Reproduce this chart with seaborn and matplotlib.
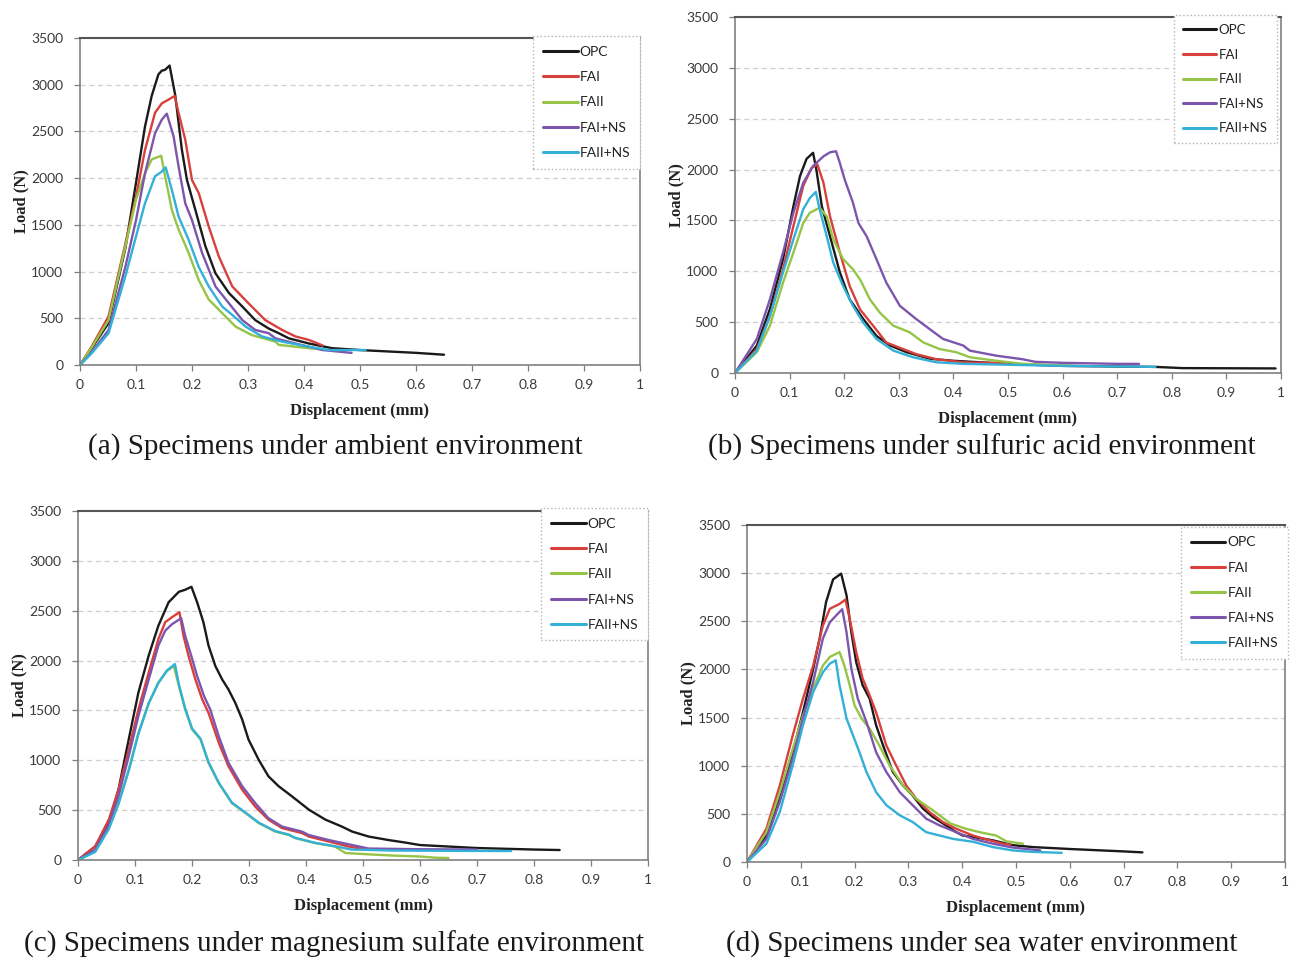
import matplotlib
matplotlib.use("Agg")
import matplotlib.pyplot as plt
import seaborn as sns
import pandas as pd

# ---------------- data (Displacement mm, Load N) ----------------
MIXES = ["OPC", "FAI", "FAII", "FAI+NS", "FAII+NS"]
COLORS = ["#1a1a1a", "#d7403c", "#95c447", "#7d55ad", "#33b0d8"]

# (a) ambient
a_opc_x = [0, 0.02, 0.051, 0.081, 0.1, 0.116, 0.128, 0.14, 0.146, 0.152, 0.16, 0.17, 0.182, 0.191, 0.206, 0.224, 0.242, 0.266, 0.29, 0.313, 0.337, 0.355, 0.373, 0.409, 0.45, 0.5, 0.55, 0.6, 0.65]
a_opc_y = [0, 170, 450, 1250, 1950, 2550, 2880, 3110, 3150, 3160, 3205, 2890, 2300, 1980, 1660, 1270, 980, 770, 625, 480, 390, 340, 285, 230, 180, 160, 145, 130, 110]
a_fai_x = [0, 0.02, 0.051, 0.081, 0.1, 0.116, 0.134, 0.146, 0.158, 0.169, 0.176, 0.188, 0.2, 0.212, 0.23, 0.248, 0.272, 0.301, 0.331, 0.361, 0.385, 0.409, 0.433]
a_fai_y = [0, 190, 520, 1300, 1800, 2300, 2700, 2800, 2840, 2880, 2700, 2410, 1980, 1840, 1480, 1160, 840, 660, 480, 375, 305, 268, 210]
a_faii_x = [0, 0.02, 0.051, 0.081, 0.1, 0.116, 0.128, 0.145, 0.152, 0.164, 0.176, 0.194, 0.212, 0.23, 0.254, 0.278, 0.307, 0.349, 0.355, 0.409, 0.43]
a_faii_y = [0, 180, 480, 1270, 1770, 2050, 2200, 2240, 2020, 1660, 1450, 1200, 910, 700, 555, 410, 320, 250, 215, 180, 170]
a_fains_x = [0, 0.02, 0.051, 0.081, 0.1, 0.116, 0.134, 0.146, 0.155, 0.167, 0.176, 0.188, 0.2, 0.218, 0.242, 0.266, 0.29, 0.313, 0.337, 0.349, 0.385, 0.433, 0.485]
a_fains_y = [0, 130, 375, 1050, 1550, 2050, 2480, 2625, 2690, 2450, 2125, 1730, 1550, 1200, 840, 660, 480, 375, 340, 285, 230, 160, 130]
a_faiins_x = [0, 0.02, 0.051, 0.081, 0.1, 0.116, 0.134, 0.146, 0.153, 0.164, 0.176, 0.194, 0.212, 0.23, 0.254, 0.272, 0.296, 0.325, 0.361, 0.409, 0.445, 0.51]
a_faiins_y = [0, 120, 340, 950, 1375, 1730, 2020, 2070, 2115, 1875, 1590, 1340, 1050, 840, 625, 535, 410, 305, 250, 195, 160, 160]

# (b) sulfuric acid
b_opc_x = [0, 0.04, 0.064, 0.088, 0.107, 0.119, 0.131, 0.143, 0.149, 0.159, 0.174, 0.192, 0.21, 0.235, 0.259, 0.284, 0.314, 0.357, 0.4, 0.5, 0.6, 0.77, 0.82, 0.99]
b_opc_y = [0, 270, 630, 1120, 1640, 1935, 2105, 2165, 2000, 1640, 1345, 990, 725, 530, 365, 270, 205, 140, 120, 90, 70, 60, 48, 45]
b_fai_x = [0, 0.04, 0.064, 0.088, 0.107, 0.125, 0.14, 0.151, 0.162, 0.174, 0.192, 0.21, 0.229, 0.253, 0.277, 0.308, 0.332, 0.369, 0.418, 0.5]
b_fai_y = [0, 235, 560, 1020, 1445, 1840, 2015, 2050, 1870, 1540, 1185, 855, 625, 465, 300, 235, 185, 135, 105, 95]
b_faii_x = [0, 0.04, 0.064, 0.088, 0.107, 0.125, 0.137, 0.155, 0.168, 0.18, 0.198, 0.216, 0.229, 0.247, 0.265, 0.29, 0.32, 0.345, 0.375, 0.405, 0.43, 0.479, 0.527, 0.62]
b_faii_y = [0, 205, 465, 890, 1185, 1475, 1575, 1625, 1540, 1315, 1120, 1020, 920, 725, 595, 465, 400, 300, 235, 205, 155, 120, 90, 70]
b_fains_x = [0, 0.04, 0.064, 0.088, 0.107, 0.125, 0.143, 0.162, 0.174, 0.185, 0.192, 0.201, 0.216, 0.226, 0.241, 0.259, 0.277, 0.302, 0.332, 0.357, 0.381, 0.418, 0.43, 0.479, 0.527, 0.55, 0.6, 0.7, 0.74]
b_fains_y = [0, 335, 725, 1185, 1575, 1870, 2035, 2130, 2170, 2180, 2065, 1900, 1675, 1475, 1345, 1120, 890, 660, 530, 430, 335, 270, 220, 170, 135, 110, 100, 90, 90]
b_faiins_x = [0, 0.04, 0.064, 0.088, 0.107, 0.125, 0.137, 0.148, 0.155, 0.168, 0.18, 0.198, 0.216, 0.235, 0.259, 0.29, 0.326, 0.369, 0.418, 0.6, 0.77]
b_faiins_y = [0, 220, 560, 990, 1315, 1610, 1720, 1780, 1610, 1345, 1085, 855, 660, 495, 335, 220, 155, 105, 90, 70, 60]

# (c) magnesium sulfate
c_opc_x = [0, 0.03, 0.054, 0.071, 0.089, 0.106, 0.124, 0.141, 0.159, 0.177, 0.188, 0.199, 0.209, 0.22, 0.229, 0.241, 0.253, 0.264, 0.276, 0.288, 0.299, 0.317, 0.334, 0.352, 0.375, 0.405, 0.434, 0.463, 0.481, 0.51, 0.545, 0.574, 0.6, 0.7, 0.8, 0.845]
c_opc_y = [0, 135, 370, 705, 1210, 1680, 2050, 2350, 2585, 2690, 2710, 2740, 2585, 2385, 2150, 1945, 1810, 1710, 1575, 1410, 1210, 1005, 840, 740, 640, 505, 405, 335, 285, 235, 200, 175, 150, 120, 105, 100]
c_fai_x = [0, 0.03, 0.054, 0.071, 0.089, 0.106, 0.124, 0.141, 0.153, 0.165, 0.178, 0.185, 0.194, 0.206, 0.218, 0.229, 0.247, 0.264, 0.288, 0.311, 0.334, 0.358, 0.393, 0.405, 0.44, 0.475, 0.5]
c_fai_y = [0, 135, 405, 705, 1105, 1510, 1880, 2215, 2385, 2435, 2485, 2250, 2045, 1810, 1610, 1475, 1175, 940, 705, 535, 405, 320, 270, 235, 185, 135, 110]
c_faii_x = [0, 0.03, 0.054, 0.071, 0.089, 0.106, 0.124, 0.141, 0.156, 0.168, 0.177, 0.188, 0.2, 0.215, 0.229, 0.247, 0.27, 0.294, 0.317, 0.346, 0.37, 0.381, 0.416, 0.451, 0.469, 0.5, 0.55, 0.6, 0.63, 0.65]
c_faii_y = [0, 85, 320, 570, 905, 1275, 1575, 1780, 1895, 1945, 1745, 1510, 1310, 1210, 975, 770, 570, 470, 370, 285, 250, 220, 170, 135, 70, 60, 45, 35, 22, 20]
c_fains_x = [0, 0.03, 0.054, 0.071, 0.089, 0.106, 0.124, 0.141, 0.153, 0.165, 0.181, 0.188, 0.197, 0.209, 0.221, 0.232, 0.247, 0.264, 0.288, 0.311, 0.334, 0.358, 0.393, 0.405, 0.44, 0.481, 0.51, 0.6, 0.7]
c_fains_y = [0, 100, 350, 640, 1040, 1445, 1810, 2150, 2300, 2365, 2425, 2250, 2080, 1845, 1645, 1510, 1240, 975, 740, 570, 420, 335, 285, 250, 200, 150, 115, 108, 105]
c_faiins_x = [0, 0.03, 0.054, 0.071, 0.089, 0.106, 0.124, 0.141, 0.156, 0.17, 0.177, 0.188, 0.2, 0.215, 0.229, 0.247, 0.27, 0.294, 0.317, 0.346, 0.37, 0.381, 0.416, 0.451, 0.48, 0.55, 0.65, 0.76]
c_faiins_y = [0, 80, 310, 560, 895, 1265, 1570, 1775, 1900, 1965, 1760, 1520, 1320, 1215, 980, 775, 575, 475, 375, 290, 255, 222, 172, 138, 105, 95, 92, 90]

# (d) sea water
d_opc_x = [0, 0.036, 0.061, 0.085, 0.104, 0.123, 0.135, 0.147, 0.16, 0.175, 0.185, 0.194, 0.203, 0.215, 0.228, 0.24, 0.253, 0.271, 0.29, 0.308, 0.327, 0.346, 0.37, 0.389, 0.401, 0.42, 0.457, 0.494, 0.531, 0.6, 0.7, 0.735]
d_opc_y = [0, 275, 690, 1140, 1555, 2005, 2320, 2700, 2935, 2995, 2770, 2385, 2075, 1835, 1695, 1420, 1210, 935, 795, 690, 555, 465, 380, 310, 275, 260, 225, 175, 155, 135, 110, 100]
d_fai_x = [0, 0.036, 0.061, 0.085, 0.104, 0.123, 0.141, 0.154, 0.172, 0.183, 0.191, 0.203, 0.215, 0.228, 0.24, 0.259, 0.277, 0.296, 0.315, 0.339, 0.364, 0.389, 0.42, 0.451, 0.476, 0.49]
d_fai_y = [0, 345, 795, 1315, 1695, 2040, 2455, 2630, 2680, 2725, 2525, 2180, 1905, 1730, 1555, 1210, 1005, 795, 655, 520, 415, 345, 275, 225, 190, 180]
d_faii_x = [0, 0.036, 0.061, 0.085, 0.104, 0.123, 0.141, 0.154, 0.172, 0.181, 0.191, 0.2, 0.213, 0.228, 0.246, 0.265, 0.29, 0.315, 0.346, 0.378, 0.407, 0.432, 0.463, 0.482, 0.513]
d_faii_y = [0, 310, 725, 1175, 1520, 1800, 2040, 2130, 2180, 2040, 1835, 1625, 1490, 1385, 1210, 1005, 795, 655, 535, 400, 345, 310, 275, 215, 190]
d_fains_x = [0, 0.036, 0.061, 0.085, 0.104, 0.123, 0.141, 0.154, 0.169, 0.177, 0.185, 0.194, 0.206, 0.222, 0.24, 0.259, 0.284, 0.308, 0.333, 0.358, 0.389, 0.42, 0.457, 0.494, 0.545]
d_fains_y = [0, 240, 625, 1075, 1490, 1870, 2320, 2490, 2580, 2625, 2385, 2005, 1695, 1455, 1140, 935, 725, 590, 450, 380, 310, 240, 190, 150, 120]
d_faiins_x = [0, 0.036, 0.061, 0.085, 0.104, 0.123, 0.141, 0.154, 0.165, 0.172, 0.185, 0.197, 0.209, 0.222, 0.24, 0.259, 0.284, 0.308, 0.333, 0.358, 0.383, 0.42, 0.457, 0.494, 0.531, 0.585]
d_faiins_y = [0, 190, 520, 1005, 1420, 1765, 1970, 2060, 2095, 1835, 1490, 1315, 1140, 935, 725, 590, 485, 415, 310, 275, 240, 210, 155, 120, 105, 95]

CAPTIONS = ["(a) Specimens under ambient environment",
            "(b) Specimens under sulfuric acid environment",
            "(c) Specimens under magnesium sulfate environment",
            "(d) Specimens under sea water environment"]
X_TICKS = [0, 0.1, 0.2, 0.3, 0.4, 0.5, 0.6, 0.7, 0.8, 0.9, 1]
X_TICK_LABELS = ["0", "0.1", "0.2", "0.3", "0.4", "0.5", "0.6", "0.7", "0.8", "0.9", "1"]
Y_TICKS = [0, 500, 1000, 1500, 2000, 2500, 3000, 3500]

panels = [
    [(a_opc_x, a_opc_y), (a_fai_x, a_fai_y), (a_faii_x, a_faii_y), (a_fains_x, a_fains_y), (a_faiins_x, a_faiins_y)],
    [(b_opc_x, b_opc_y), (b_fai_x, b_fai_y), (b_faii_x, b_faii_y), (b_fains_x, b_fains_y), (b_faiins_x, b_faiins_y)],
    [(c_opc_x, c_opc_y), (c_fai_x, c_fai_y), (c_faii_x, c_faii_y), (c_fains_x, c_fains_y), (c_faiins_x, c_faiins_y)],
    [(d_opc_x, d_opc_y), (d_fai_x, d_fai_y), (d_faii_x, d_faii_y), (d_fains_x, d_fains_y), (d_faiins_x, d_faiins_y)],
]

# ---------------- layout ----------------
W, H = 1293, 960
def rect(l, r, t, b):
    return [l / W, (H - b) / H, (r - l) / W, (b - t) / H]

AX_RECTS = [rect(80, 640, 38, 365), rect(735, 1281, 17, 373),
            rect(78, 648, 511, 860), rect(747, 1285, 525, 862)]
CAP_POS = [(335, 447), (982, 447), (334, 944), (982, 944)]
LEG_ANCHOR = [(1.0, 1.005), (0.992, 1.006), (1.0, 1.008), (1.005, 0.995)]
LEG_FONT = [10, 9.5, 10, 10]

sns.set_theme(style="white")
plt.rcParams["font.family"] = ["Lato", "DejaVu Sans"]

fig = plt.figure(figsize=(W / 100, H / 100), dpi=100)
fig.patch.set_facecolor("white")

for i, series in enumerate(panels):
    ax = fig.add_axes(AX_RECTS[i])
    frames = []
    for name, (xs, ys) in zip(MIXES, series):
        frames.append(pd.DataFrame({"disp": xs, "load": ys, "mix": name}))
    df = pd.concat(frames, ignore_index=True)
    sns.lineplot(data=df, x="disp", y="load", hue="mix", hue_order=MIXES,
                 palette=COLORS, sort=False, estimator=None, linewidth=1.7,
                 ax=ax, legend=True)
    ax.set_xlim(0, 1)
    ax.set_ylim(0, 3500)
    ax.set_xticks(X_TICKS)
    ax.set_xticklabels(X_TICK_LABELS)
    ax.set_yticks(Y_TICKS)
    ax.tick_params(axis="both", which="both", direction="out", length=4, width=0.9,
                   color="#7f7f7f", labelsize=10, labelcolor="#3a3a3a",
                   bottom=True, left=True)
    ax.tick_params(axis="y", pad=8)
    ax.tick_params(axis="x", pad=6)
    for yv in Y_TICKS[1:-1]:
        ax.axhline(yv, color="#cfcfcf", linestyle=(0, (4, 3)), linewidth=0.9, zorder=0)
    for side, sp in ax.spines.items():
        sp.set_visible(True)
        sp.set_color("#808080")
        sp.set_linewidth(1.2)
    ax.spines["top"].set_color("#555555")
    ax.spines["top"].set_linewidth(1.5)
    ax.set_xlabel("Displacement (mm)", fontfamily="Liberation Serif", fontweight="bold",
                  fontsize=12, color="#222222", labelpad=9)
    ax.set_ylabel("Load (N)", fontfamily="Liberation Serif", fontweight="bold",
                  fontsize=12, color="#222222", labelpad=1)
    handles, labels = ax.get_legend_handles_labels()
    old = ax.get_legend()
    if old is not None:
        old.remove()
    leg = ax.legend(handles, labels, loc="upper right", bbox_to_anchor=LEG_ANCHOR[i],
                    borderaxespad=0, frameon=True, fancybox=False, fontsize=LEG_FONT[i],
                    handlelength=2.5, handletextpad=0.15, labelspacing=0.95,
                    borderpad=0.7, framealpha=1)
    fr = leg.get_frame()
    fr.set_edgecolor("#b5b5b5")
    fr.set_linestyle(":")
    fr.set_linewidth(1.0)
    for ln in leg.get_lines():
        ln.set_linewidth(2.2)
    for t in leg.get_texts():
        t.set_color("#222222")

    cx, cy = CAP_POS[i]
    fig.text(cx / W, 1 - cy / H, CAPTIONS[i], ha="center", va="center",
             fontfamily="Liberation Serif", fontsize=21, color="#1a1a1a")

fig.savefig("out.png", dpi=100, facecolor="white")
